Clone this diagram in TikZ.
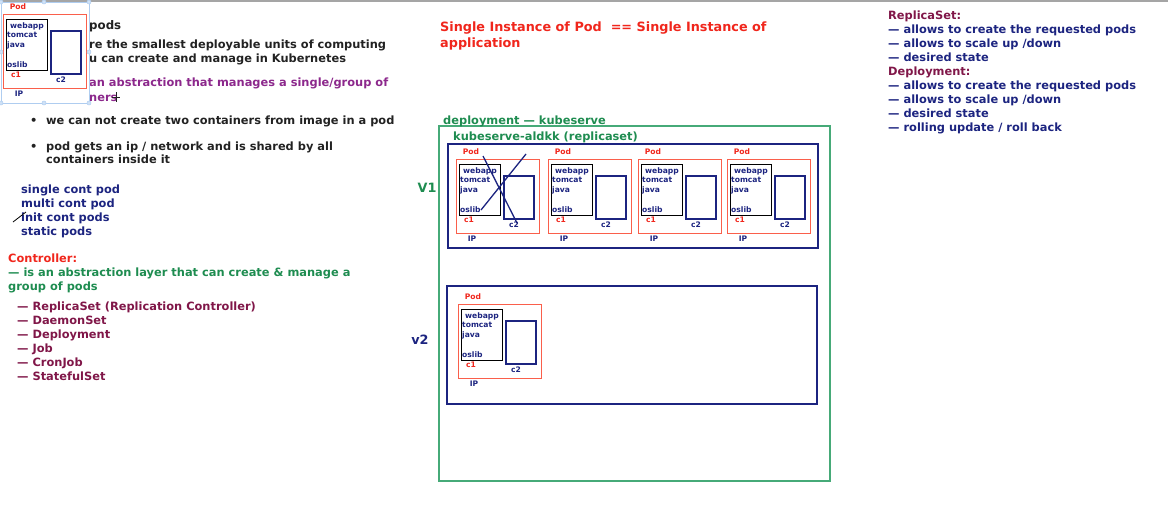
\documentclass[tikz,border=0pt]{standalone}
\usepackage{fontspec}
\setmainfont{DejaVu Sans}
\definecolor{kubenavy}{RGB}{28,36,128}
\definecolor{kubered}{RGB}{240,38,28}
\definecolor{kubepodred}{RGB}{250,95,75}
\definecolor{kubegreen}{RGB}{30,140,80}
\definecolor{kubeboxgreen}{RGB}{70,170,120}
\definecolor{kubemaroon}{RGB}{128,22,72}
\definecolor{kubepurple}{RGB}{140,40,140}
\definecolor{kubeink}{RGB}{34,34,34}
\definecolor{kubesel}{RGB}{175,205,240}
\definecolor{kubetop}{RGB}{165,165,165}

% one pod: red frame, c1 (app stack), c2, labels
\newcommand{\kubepod}[3]{%
\begin{scope}[shift={(#2pt,#3pt)}]
\node[podframe,minimum width=83pt,minimum height=74pt] (#1box) at (0pt,0pt) {};
\node[podtag,color=kubered] (#1tag) at (15pt,-7pt) {Pod};
\node[c1frame,minimum width=41pt,minimum height=51pt] (#1c1) at (3pt,5pt) {};
\node[c2frame,minimum width=30pt,minimum height=43pt] (#1c2) at (48pt,17pt) {};
\node[poditem] (#1web) at (7pt,11pt) {webapp};
\node[poditem] (#1tom) at (4pt,20pt) {tomcat};
\node[poditem] (#1java) at (4pt,30pt) {java};
\node[poditem] (#1lib) at (4pt,50pt) {oslib};
\node[podtag,color=kubered] (#1c1tag) at (13pt,61pt) {c1};
\node[podtag,color=kubenavy] (#1c2tag) at (58pt,66pt) {c2};
\node[podtag,color=kubenavy] (#1ip) at (16pt,80pt) {IP};
\end{scope}}

\begin{document}
\begin{tikzpicture}[yscale=-1
,tstyle/.style={font=\bfseries\fontsize{11.4}{14}\selectfont,anchor=west,inner sep=0,text height=11pt,text depth=1.5pt}
,bigtext/.style={tstyle,font=\bfseries\fontsize{12.8}{15}\selectfont}
,podtag/.style={font=\bfseries\fontsize{7.6}{8}\selectfont,inner sep=0}
,poditem/.style={font=\bfseries\fontsize{7.6}{8}\selectfont,color=kubenavy,anchor=west,inner sep=0,text height=7pt,text depth=1pt}
,podframe/.style={draw=kubepodred,fill=white,line width=0.9pt,anchor=north west,inner sep=0,outer sep=0}
,c1frame/.style={draw=black,line width=0.9pt,anchor=north west,inner sep=0,outer sep=0}
,c2frame/.style={draw=kubenavy,line width=1.1pt,anchor=north west,inner sep=0,outer sep=0}
,rsframe/.style={draw=kubenavy,line width=1.8pt,anchor=north west,inner sep=0,outer sep=0}
,depframe/.style={draw=kubeboxgreen,line width=1.3pt,anchor=north west,inner sep=0,outer sep=0}
,scribble/.style={color=kubenavy,line width=1.3pt}
,selstyle/.style={draw=kubesel,line width=0.7pt}
,selhandle/.style={draw=kubesel,fill=kubesel!60,line width=0.5pt}
]
\useasboundingbox (0pt,0pt) rectangle (1168pt,522pt);
\draw[kubetop,line width=1.6pt] (0pt,1pt) -- (1168pt,1pt);
% pods text, top left
\node[tstyle,font=\bfseries\fontsize{11.8}{14}\selectfont,color=kubeink] (podsHead) at (89pt,25pt) {pods};
\node[tstyle,color=kubeink] (podsLine1) at (89pt,44pt) {re the smallest deployable units of computing};
\node[tstyle,color=kubeink] (podsLine2) at (89pt,58pt) {u can create and manage in Kubernetes};
\node[tstyle,color=kubepurple] (podsAbs1) at (89pt,82pt) {an abstraction that manages a single/group of};
\node[tstyle,color=kubepurple] (podsAbs2) at (89pt,97pt) {ners};
\draw[kubeink,line width=0.6pt] (116pt,92pt) -- (116pt,102pt);
\draw[kubeink,line width=0.6pt] (112pt,97pt) -- (120pt,97pt);
\node[tstyle,color=kubeink] (bul1) at (30pt,120pt) {•};
\node[tstyle,color=kubeink] (bulText1) at (46pt,120pt) {we can not create two containers from image in a pod};
\node[tstyle,color=kubeink] (bul2) at (30pt,146pt) {•};
\node[tstyle,color=kubeink] (bulText2) at (46pt,146pt) {pod gets an ip / network and is shared by all};
\node[tstyle,color=kubeink] (bulText3) at (46pt,159pt) {containers inside it};
% pod kinds
\node[tstyle,color=kubenavy] (kindSingle) at (21pt,189pt) {single cont pod};
\node[tstyle,color=kubenavy] (kindMulti) at (21pt,203pt) {multi cont pod};
\node[tstyle,color=kubenavy] (kindInit) at (21pt,217pt) {init cont pods};
\node[tstyle,color=kubenavy] (kindStatic) at (21pt,231pt) {static pods};
\draw[black,line width=0.8pt] (13pt,222pt) -- (26pt,212pt);
% controllers
\node[tstyle,color=kubered] (ctrlHead) at (8pt,258pt) {Controller:};
\node[tstyle,color=kubegreen] (ctrlDef1) at (8pt,272pt) {— is an abstraction layer that can create \& manage a};
\node[tstyle,color=kubegreen] (ctrlDef2) at (8pt,286pt) {group of pods};
\node[tstyle,color=kubemaroon] (ctrlRs) at (17pt,306pt) {— ReplicaSet (Replication Controller)};
\node[tstyle,color=kubemaroon] (ctrlDs) at (17pt,320pt) {— DaemonSet};
\node[tstyle,color=kubemaroon] (ctrlDep) at (17pt,334pt) {— Deployment};
\node[tstyle,color=kubemaroon] (ctrlJob) at (17pt,348pt) {— Job};
\node[tstyle,color=kubemaroon] (ctrlCron) at (17pt,362pt) {— CronJob};
\node[tstyle,color=kubemaroon] (ctrlSts) at (17pt,376pt) {— StatefulSet};
% title
\node[bigtext,color=kubered] (title1) at (440pt,27pt) {Single Instance of Pod\ \ == Single Instance of};
\node[bigtext,color=kubered] (title2) at (440pt,43pt) {application};
% right notes
\node[tstyle,color=kubemaroon] (rsHead) at (888pt,15pt) {ReplicaSet:};
\node[tstyle,color=kubenavy] (rsCreate) at (888pt,29pt) {— allows to create the requested pods};
\node[tstyle,color=kubenavy] (rsScale) at (888pt,43pt) {— allows to scale up /down};
\node[tstyle,color=kubenavy] (rsState) at (888pt,57pt) {— desired state};
\node[tstyle,color=kubemaroon] (dpHead) at (888pt,71pt) {Deployment:};
\node[tstyle,color=kubenavy] (dpCreate) at (888pt,85pt) {— allows to create the requested pods};
\node[tstyle,color=kubenavy] (dpScale) at (888pt,99pt) {— allows to scale up /down};
\node[tstyle,color=kubenavy] (dpState) at (888pt,113pt) {— desired state};
\node[tstyle,color=kubenavy] (dpRoll) at (888pt,127pt) {— rolling update / roll back};
% deployment
\node[depframe,minimum width=391pt,minimum height=355pt] (depBox) at (439pt,126pt) {};
\node[tstyle,color=kubegreen] (depLabel) at (443pt,120pt) {deployment — kubeserve};
\node[tstyle,color=kubegreen] (rsLabel) at (453pt,136pt) {kubeserve-aldkk (replicaset)};
\node[rsframe,minimum width=370pt,minimum height=104pt] (rsV1) at (448pt,144pt) {};
\node[rsframe,minimum width=370pt,minimum height=118pt] (rsV2) at (447pt,286pt) {};
\node[bigtext,anchor=center,color=kubegreen] (v1) at (427pt,188pt) {V1};
\node[bigtext,anchor=center,color=kubenavy] (v2) at (420pt,340pt) {v2};
\kubepod{pa}{456}{159}
\kubepod{pb}{548}{159}
\kubepod{pc}{638}{159}
\kubepod{pd}{727}{159}
\kubepod{pe}{458}{304}
\draw[scribble] (483pt,156pt) -- (517pt,223pt);
\draw[scribble] (526pt,154pt) -- (481pt,210pt);
% selected pod, top left
\kubepod{pz}{3}{14}
\draw[selstyle] (1pt,2pt) rectangle (89pt,103pt);
\draw[selhandle] (1pt,2pt) circle (2pt);
\draw[selhandle] (44pt,2pt) circle (2pt);
\draw[selhandle] (89pt,2pt) circle (2pt);
\draw[selhandle] (1pt,52pt) circle (2pt);
\draw[selhandle] (89pt,52pt) circle (2pt);
\draw[selhandle] (1pt,103pt) circle (2pt);
\draw[selhandle] (44pt,103pt) circle (2pt);
\draw[selhandle] (89pt,103pt) circle (2pt);
\end{tikzpicture}
\end{document}
